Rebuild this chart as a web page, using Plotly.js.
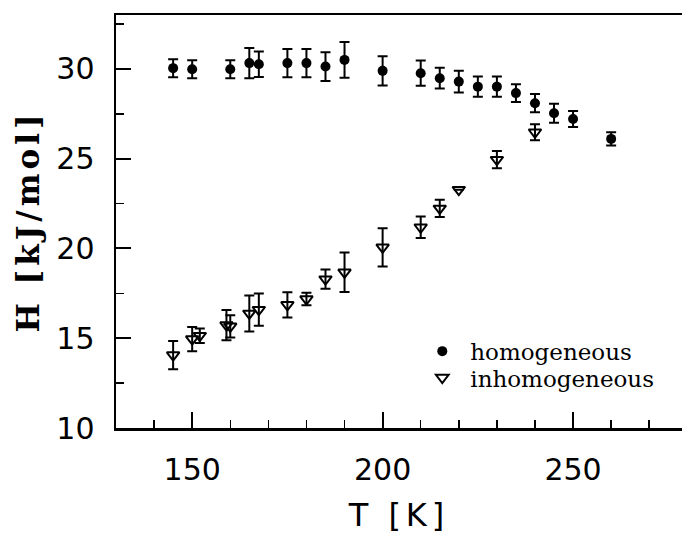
<!DOCTYPE html>
<html>
<head>
<meta charset="utf-8">
<script src="https://cdn.plot.ly/plotly-3.0.1.min.js"></script>
<style>
  html, body { margin: 0; padding: 0; background: #fff; }
  #chart { width: 682px; height: 536px; }
  /* wider tracking on the axis titles */
  #chart text.ytitle { letter-spacing: 4px; }
  #chart text.xtitle { letter-spacing: 5px; }
</style>
</head>
<body>
<div id="chart"></div>
<script>
// Activation enthalpy H versus temperature T
const homT   = [145, 150, 160, 165, 167.5, 175, 180, 185, 190, 200, 210, 215, 220, 225, 230, 235, 240, 245, 250, 260];
const homH   = [30.04, 29.98, 29.98, 30.32, 30.26, 30.32, 30.32, 30.13, 30.5, 29.89, 29.76, 29.48, 29.29, 29.01, 29.01, 28.65, 28.09, 27.53, 27.21, 26.1];
const homErr = [0.5, 0.5, 0.5, 0.84, 0.71, 0.78, 0.78, 0.8, 1.0, 0.81, 0.7, 0.58, 0.6, 0.56, 0.56, 0.49, 0.51, 0.53, 0.45, 0.37];

const inhT   = [145, 150, 152, 159, 160, 165, 167.5, 175, 180, 185, 190, 200, 210, 215, 220, 230, 240];
const inhH   = [14.06, 14.95, 15.14, 15.73, 15.66, 16.38, 16.59, 16.86, 17.18, 18.29, 18.67, 20.06, 21.18, 22.23, 23.27, 24.94, 26.47];
const inhErr = [0.79, 0.68, 0.4, 0.84, 0.62, 1.0, 0.9, 0.7, 0.35, 0.53, 1.1, 1.07, 0.6, 0.48, 0, 0.48, 0.45];

const xTickVals = [150, 200, 250];
const yTickVals = [10, 15, 20, 25, 30];

const errStyle = { type: 'data', visible: true, color: '#000', thickness: 2, width: 5 };

const traces = [
  {
    name: 'homogeneous',
    legend: 'legend',
    x: homT, y: homH,
    type: 'scatter', mode: 'markers',
    marker: { symbol: 'circle', size: 10, color: '#000' },
    error_y: Object.assign({ array: homErr }, errStyle)
  },
  {
    name: 'inhomogeneous',
    legend: 'legend2',
    x: inhT, y: inhH,
    type: 'scatter', mode: 'markers',
    marker: { symbol: 'triangle-down-open', size: 11, color: '#000', line: { width: 2, color: '#000' } },
    error_y: Object.assign({ array: inhErr }, errStyle)
  }
];

const legendFont = { family: 'DejaVu Serif', size: 23, color: '#000' };

const layout = {
  width: 682, height: 536,
  margin: { l: 116, r: 0, t: 15, b: 108 },
  paper_bgcolor: '#fff', plot_bgcolor: '#fff',
  showlegend: true,
  legend: {
    x: 0.527, y: 0.238, xanchor: 'left', yanchor: 'top',
    bgcolor: 'rgba(0,0,0,0)', itemwidth: 46, font: legendFont
  },
  legend2: {
    x: 0.527, y: 0.174, xanchor: 'left', yanchor: 'top',
    bgcolor: 'rgba(0,0,0,0)', itemwidth: 46, font: legendFont
  },
  xaxis: {
    range: [130, 278.6],
    tickvals: xTickVals, ticktext: xTickVals.map(String),
    ticks: 'inside', ticklen: 16, tickwidth: 2, tickcolor: '#000',
    minor: { dtick: 10, tick0: 130, ticks: 'inside', ticklen: 8, tickwidth: 1.5, tickcolor: '#000' },
    showline: true, linewidth: 2.5, linecolor: '#000', mirror: true,
    showgrid: false, zeroline: false,
    ticklabelstandoff: 13,
    tickfont: { family: 'DejaVu Sans', size: 30, color: '#000' },
    title: { text: 'T [K]', standoff: 18, font: { family: 'DejaVu Sans', size: 32, color: '#000' } }
  },
  yaxis: {
    range: [10, 33],
    tickvals: yTickVals, ticktext: yTickVals.map(String),
    ticks: 'inside', ticklen: 15, tickwidth: 2, tickcolor: '#000',
    minor: { dtick: 2.5, tick0: 10, ticks: 'inside', ticklen: 8, tickwidth: 1.5, tickcolor: '#000' },
    showline: true, linewidth: 2.5, linecolor: '#000', mirror: false,
    showgrid: false, zeroline: false,
    ticklabelstandoff: 13,
    tickfont: { family: 'DejaVu Sans', size: 30, color: '#000' },
    title: { text: 'H [kJ/mol]', standoff: 8, font: { family: 'DejaVu Serif', size: 31, weight: 'bold', color: '#000' } }
  }
};

Plotly.newPlot('chart', traces, layout, { displayModeBar: false, staticPlot: true });
</script>
</body>
</html>
